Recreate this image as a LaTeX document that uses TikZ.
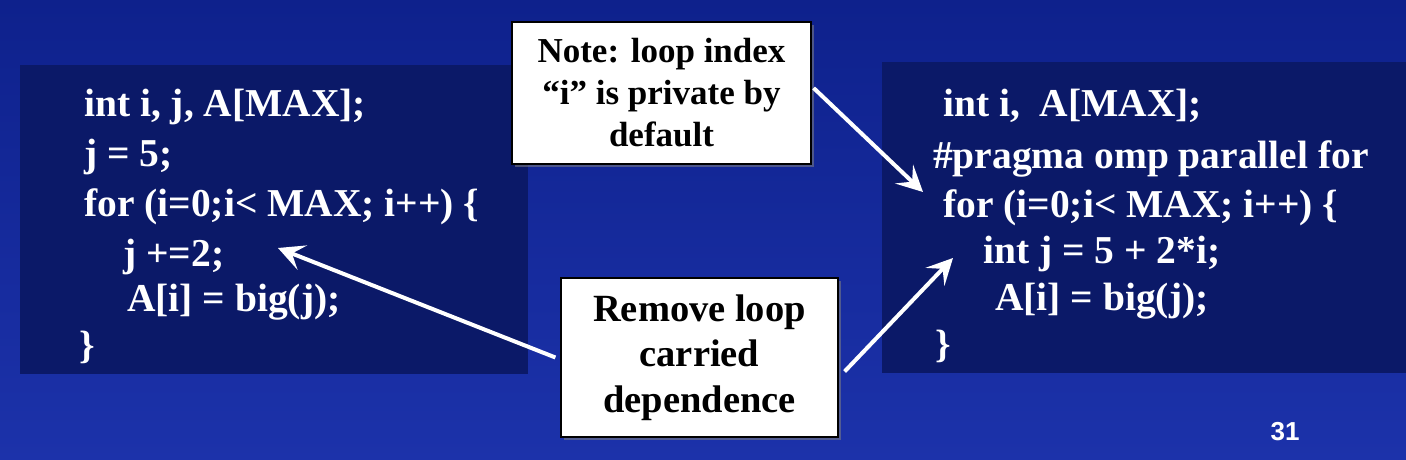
\documentclass[tikz,border=0pt]{standalone}
\usepackage{fontspec}
\setmainfont{Liberation Serif}
\newfontfamily\numfont{Liberation Sans}
\usetikzlibrary{arrows.meta,positioning,shadows}

\definecolor{slidetop}{RGB}{14,33,140}
\definecolor{slidebottom}{RGB}{28,50,170}
\definecolor{codebg}{RGB}{11,25,104}

\begin{document}
\begin{tikzpicture}[
    x=1pt, y=-1pt,
    % code lines (white, bold)
    codeline/.style={
        anchor=base west,
        inner sep=0pt,
        text=white,
        font=\bfseries\fontsize{39.5}{44}\selectfont
    },
    % white callout boxes
    callout/.style={
        draw=black,
        line width=1.2pt,
        fill=white,
        align=center,
        inner sep=0pt,
        drop shadow={shadow xshift=3pt, shadow yshift=-3pt, opacity=0.55}
    },
    % white arrows
    pointer/.style={
        draw=white,
        line width=4pt,
        -{Stealth[length=26pt, width=26pt, inset=11pt]}
    }
]

    % --- 1. background ---
    \useasboundingbox (0,0) rectangle (1406,460);
    \shade[top color=slidetop, bottom color=slidebottom] (0,0) rectangle (1406,460);

    % --- 2. code panels ---
    \fill[codebg] (20,65) rectangle (528,374);
    \fill[codebg] (882,62) rectangle (1406,373);

    % left: serial loop
    \node[codeline] (codeL1) at (84,117) {int i, j, A[MAX];};
    \node[codeline] (codeL2) at (84,166) {j = 5;};
    \node[codeline] (codeL3) at (84,216) {for (i=0;i< MAX; i++) \{};
    \node[codeline] (codeL4) at (123,266) {j +=2;};
    \node[codeline] (codeL5) at (127,311) {A[i] = big(j);};
    \node[codeline] (codeL6) at (79,358) {\}};

    % right: parallel loop
    \node[codeline] (codeR1) at (943,116) {int i,\ \ A[MAX];};
    \node[codeline] (codeR2) at (933,168) {\#pragma omp parallel for};
    \node[codeline] (codeR3) at (943,217) {for (i=0;i< MAX; i++) \{};
    \node[codeline] (codeR4) at (983,263) {int j = 5 + 2*i;};
    \node[codeline] (codeR5) at (995,310) {A[i] = big(j);};
    \node[codeline] (codeR6) at (935,357) {\}};

    % --- 3. callouts ---
    \node[callout, minimum width=299pt, minimum height=142pt,
          font=\bfseries\fontsize{35}{42}\selectfont] (noteBox) at (661.5,93)
        {Note: loop index\\“i” is private by\\default};

    \node[callout, minimum width=277pt, minimum height=159pt,
          font=\bfseries\fontsize{38.5}{45.5}\selectfont] (removeBox) at (699.5,357.5)
        {Remove loop\\carried\\dependence};

    % arrow tips
    \coordinate (tipPriv) at (923,192);
    \coordinate (tipJ) at (278,248);
    \coordinate (tipInt) at (953,258);

    % --- 4. arrows ---
    \draw[pointer] ([shift={(2,-5)}]noteBox.east) -- (tipPriv);
    \draw[pointer] ([xshift=-5pt]removeBox.west) -- (tipJ);
    \draw[pointer] ([shift={(6,14)}]removeBox.east) -- (tipInt);

    % --- 5. page number ---
    \node[text=white, font=\numfont\bfseries\fontsize{26}{30}\selectfont] (pageNum) at (1285,432) {31};

\end{tikzpicture}
\end{document}
